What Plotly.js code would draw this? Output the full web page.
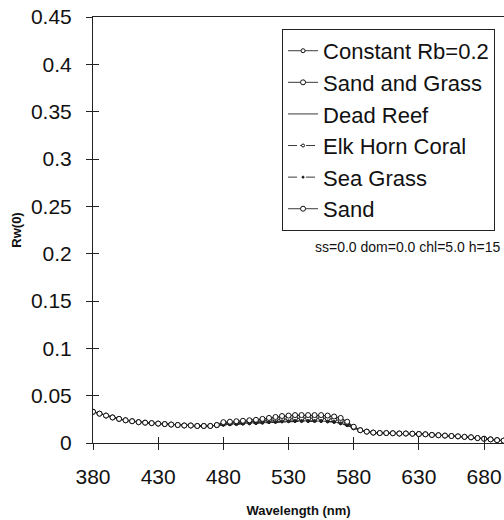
<!DOCTYPE html>
<html><head><meta charset="utf-8">
<script src="https://cdn.plot.ly/plotly-3.0.1.min.js"></script>
<style>html,body{margin:0;padding:0;background:#fff}#chart{width:504px;height:520px}</style>
</head><body><div id="chart"></div>
<script>
var wavelength = [380,385,390,395,400,405,410,415,420,425,430,435,440,445,450,455,460,465,470,475,480,485,490,495,500,505,510,515,520,525,530,535,540,545,550,555,560,565,570,575,580,585,590,595,600,605,610,615,620,625,630,635,640,645,650,655,660,665,670,675,680,685,690,695];

var constantRb = [0.033,0.031,0.029,0.027,0.0255,0.024,0.023,0.022,0.0215,0.021,0.0205,0.020,0.0195,0.019,0.0185,0.0185,0.018,0.018,0.018,0.019,0.0215,0.022,0.0225,0.023,0.0235,0.024,0.025,0.026,0.027,0.028,0.0285,0.029,0.029,0.029,0.029,0.029,0.0285,0.0275,0.026,0.022,0.017,0.0135,0.012,0.011,0.0105,0.0105,0.0103,0.010,0.010,0.0098,0.0095,0.0092,0.0085,0.0082,0.0078,0.0074,0.007,0.0065,0.006,0.0052,0.0045,0.0038,0.003,0.0025];
var sandGrass = [0.033,0.031,0.029,0.027,0.0255,0.024,0.023,0.022,0.0215,0.021,0.0205,0.020,0.0195,0.019,0.0185,0.0185,0.018,0.018,0.018,0.0188,0.0205,0.021,0.0215,0.022,0.0225,0.023,0.0235,0.024,0.025,0.0255,0.026,0.0262,0.0262,0.0262,0.0262,0.0262,0.026,0.025,0.0235,0.0205,0.0165,0.0135,0.012,0.011,0.0105,0.0105,0.0103,0.010,0.010,0.0098,0.0095,0.0092,0.0085,0.0082,0.0078,0.0074,0.007,0.0065,0.006,0.0052,0.0045,0.0038,0.003,0.0025];
var deadReef = [0.033,0.031,0.029,0.027,0.0255,0.024,0.023,0.022,0.0215,0.021,0.0205,0.020,0.0195,0.019,0.0185,0.0185,0.018,0.018,0.018,0.0185,0.0195,0.020,0.0205,0.021,0.021,0.0215,0.022,0.022,0.0225,0.023,0.0235,0.0235,0.0235,0.0235,0.0235,0.0235,0.023,0.0225,0.021,0.019,0.016,0.0135,0.012,0.011,0.0105,0.0105,0.0103,0.010,0.010,0.0098,0.0095,0.0092,0.0085,0.0082,0.0078,0.0074,0.007,0.0065,0.006,0.0052,0.0045,0.0038,0.003,0.0025];
var elkHorn = [0.033,0.031,0.029,0.027,0.0255,0.024,0.023,0.022,0.0215,0.021,0.0205,0.020,0.0195,0.019,0.0185,0.0185,0.018,0.018,0.018,0.0185,0.0195,0.0198,0.020,0.0205,0.0208,0.021,0.0215,0.022,0.0222,0.0228,0.023,0.0232,0.0232,0.0232,0.0232,0.0232,0.0228,0.0222,0.0208,0.0188,0.0158,0.0135,0.012,0.011,0.0105,0.0105,0.0103,0.010,0.010,0.0098,0.0095,0.0092,0.0085,0.0082,0.0078,0.0074,0.007,0.0065,0.006,0.0052,0.0045,0.0038,0.003,0.0025];
var seaGrass = [0.033,0.031,0.029,0.027,0.0255,0.024,0.023,0.022,0.0215,0.021,0.0205,0.020,0.0195,0.019,0.0185,0.0185,0.018,0.018,0.018,0.0185,0.019,0.0195,0.020,0.0202,0.0205,0.021,0.0212,0.0218,0.022,0.0225,0.0228,0.023,0.023,0.023,0.023,0.023,0.0225,0.022,0.0205,0.0185,0.0158,0.0135,0.012,0.011,0.0105,0.0105,0.0103,0.010,0.010,0.0098,0.0095,0.0092,0.0085,0.0082,0.0078,0.0074,0.007,0.0065,0.006,0.0052,0.0045,0.0038,0.003,0.0025];
var sand = [0.033,0.031,0.029,0.027,0.0255,0.024,0.023,0.022,0.0215,0.021,0.0205,0.020,0.0195,0.019,0.0185,0.0185,0.018,0.018,0.018,0.019,0.022,0.0225,0.023,0.0235,0.024,0.0245,0.0255,0.0265,0.0275,0.0285,0.029,0.0295,0.0295,0.0295,0.0295,0.0295,0.029,0.028,0.0265,0.0225,0.0172,0.0135,0.012,0.011,0.0105,0.0105,0.0103,0.010,0.010,0.0098,0.0095,0.0092,0.0085,0.0082,0.0078,0.0074,0.007,0.0065,0.006,0.0052,0.0045,0.0038,0.003,0.0025];

var seriesNames = ['Constant Rb=0.2','Sand and Grass','Dead Reef','Elk Horn Coral','Sea Grass','Sand'];
var seriesValues = [constantRb, sandGrass, deadReef, elkHorn, seaGrass, sand];
var seriesDash = ['solid','solid','solid','dashdot','dash','solid'];
var seriesMode = ['lines+markers','lines+markers','lines','lines+markers','lines+markers','lines+markers'];
var seriesSymbol = ['circle','circle','circle','circle','circle','circle'];
var seriesFill = ['#fff','#fff','#fff','#fff','#333','#fff'];
var seriesMarkerSize = [4,5,4,3,2,5];
var yTicks = [0,0.05,0.1,0.15,0.2,0.25,0.3,0.35,0.4,0.45];
var yTickText = ['0','0.05','0.1','0.15','0.2','0.25','0.3','0.35','0.4','0.45'];
var xTicks = [380,430,480,530,580,630,680];

var traces = seriesNames.map(function(n,i){
  return {x: wavelength, y: seriesValues[i], name: n, type:'scatter', mode: seriesMode[i],
    legendgroup: 'g'+i,
    line:{color:'#222', width:0.9, dash: seriesDash[i]},
    marker:{symbol: seriesSymbol[i], size: seriesMarkerSize[i], color: seriesFill[i], line:{color:'#111', width:1}},
    cliponaxis:true};
});

var fontF = 'Arial, Liberation Sans, sans-serif';
var layout = {
  width:504, height:520,
  margin:{l:93, r:0, t:17, b:77},
  paper_bgcolor:'#fff', plot_bgcolor:'#fff',
  showlegend:true,
  legend:{x:0.46, y:0.972, xanchor:'left', yanchor:'top', bordercolor:'#222', borderwidth:1,
    font:{family:fontF, size:22, color:'#111'}, itemwidth:30, tracegroupgap:0, traceorder:'grouped', bgcolor:'#fff'},
  xaxis:{range:[380,695.3], tickvals:xTicks, ticks:'outside', ticklen:6, tickcolor:'#222', tickwidth:1,
    showline:true, linecolor:'#222', linewidth:1, mirror:true, showgrid:false, zeroline:false,
    tickfont:{family:fontF, size:21, color:'#111'}, ticklabelstandoff:9,
    title:{text:'<b>Wavelength (nm)</b>', font:{family:fontF, size:13, color:'#111'}, standoff:18}},
  xaxis2:{range:[380,695.3], overlaying:'x', anchor:'y', side:'bottom', tickvals:xTicks, ticks:'inside', ticklen:6,
    tickcolor:'#222', showticklabels:false, showgrid:false, zeroline:false, showline:false},
  yaxis:{range:[0,0.45], tickvals:yTicks, ticktext:yTickText, ticks:'outside', ticklen:6, tickcolor:'#222',
    showline:true, linecolor:'#222', linewidth:1, showgrid:false, zeroline:false,
    tickfont:{family:fontF, size:21, color:'#111'}, ticklabelstandoff:10,
    title:{text:'<b>Rw(0)</b>', font:{family:fontF, size:13, color:'#111'}, standoff:6}},
  yaxis2:{range:[0,0.45], overlaying:'y', anchor:'x', side:'left', tickvals:yTicks, ticks:'inside', ticklen:6,
    tickcolor:'#222', showticklabels:false, showgrid:false, zeroline:false, showline:false},
  annotations:[{text:'ss=0.0 dom=0.0 chl=5.0 h=15', xref:'paper', yref:'paper', x:0.535, y:0.46,
    xanchor:'left', yanchor:'middle', showarrow:false, font:{family:fontF, size:14, color:'#111'}}]
};
traces.push({x:[380], y:[0], xaxis:'x2', yaxis:'y2', mode:'markers', marker:{opacity:0}, showlegend:false, hoverinfo:'skip'});
Plotly.newPlot('chart', traces, layout, {displayModeBar:false, staticPlot:true});
</script></body></html>
